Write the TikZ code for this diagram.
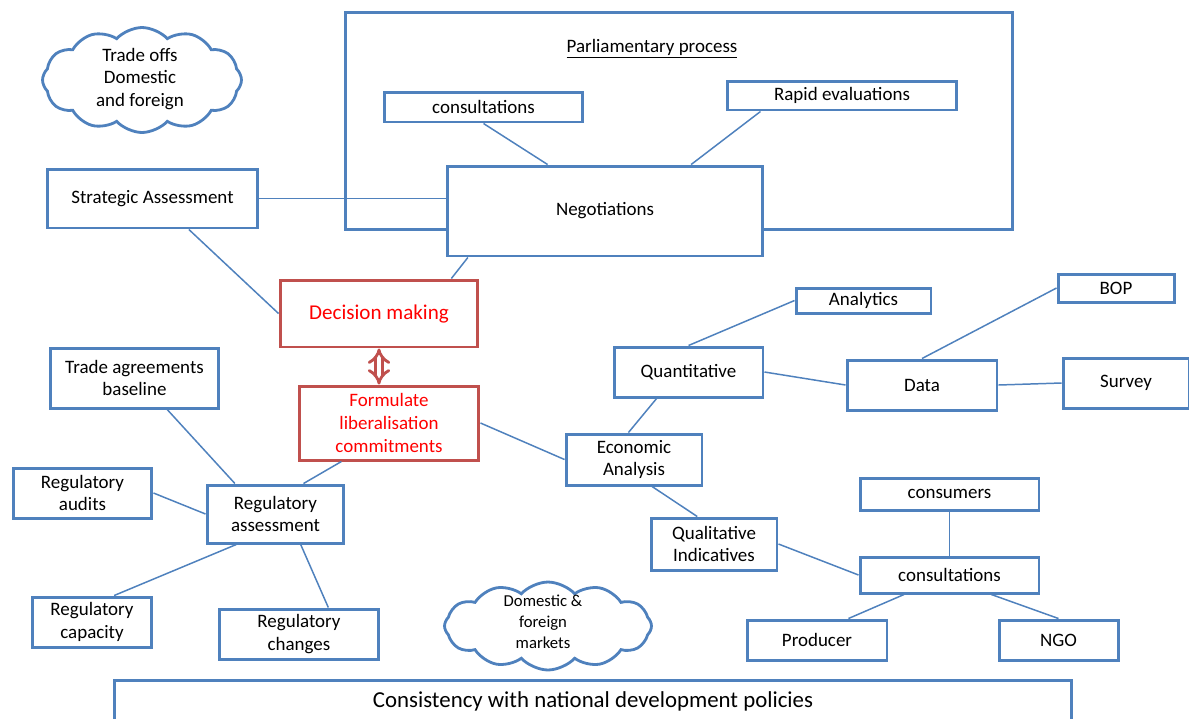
\documentclass[tikz,border=0pt]{standalone}
\usepackage{fontspec}
\setmainfont{Carlito}
\usetikzlibrary{calc,arrows.meta,shapes.symbols}
\definecolor{boxblue}{HTML}{4F81BD}
\definecolor{boxred}{HTML}{C0504D}
\begin{document}
\begin{tikzpicture}[x=0.02cm,y=-0.02cm,
  box/.style={draw=boxblue,line width=1.7pt,fill=white,align=center,inner sep=0pt,
    font=\fontsize{10.8}{13}\selectfont},
  redbox/.style={box,draw=boxred,text=red},
  link/.style={draw=boxblue,line width=0.85pt},
  puff/.style={draw=boxblue,line width=1.6pt,cloud,cloud puffs=12,cloud puff arc=95,
    cloud ignores aspect,inner sep=0pt}]
\useasboundingbox (0,0) rectangle (1189,718);
\node at (679,121) [draw=boxblue,line width=1.7pt,minimum width=13.36cm,minimum height=4.36cm](parl){};
\node at (652,49) [font=\fontsize{10.8}{13}\selectfont](pp){\underline{Parliamentary process}};
\node at (483.5,107) [box,minimum width=3.98cm,minimum height=0.6cm](cons1){consultations};
\node at (842,95.5) [box,minimum width=4.6cm,minimum height=0.58cm](rapid){Rapid evaluations};
\node at (605,211) [box,minimum width=6.32cm,minimum height=1.8cm](nego){Negotiations};
\node at (152.5,198.5) [box,minimum width=4.22cm,minimum height=1.18cm](strat){Strategic Assessment};
\node at (142,80) [puff,minimum width=3.98cm,minimum height=2.1cm](trade){};
\node at (140,79) [align=center,font=\fontsize{10.8}{13}\selectfont](tradetxt){Trade offs\\Domestic\\and foreign};
\node at (379,313.5) [redbox,minimum width=3.96cm,minimum height=1.34cm,font=\fontsize{12}{14}\selectfont](dec){Decision making};
\node at (389,423) [redbox,minimum width=3.6cm,minimum height=1.48cm](form){Formulate\\liberalisation\\commitments};
\node at (134.5,378) [box,minimum width=3.38cm,minimum height=1.2cm](tab){Trade agreements\\baseline};
\node at (82.5,493) [box,minimum width=2.78cm,minimum height=1.0cm](raud){Regulatory\\audits};
\node at (275.5,514) [box,minimum width=2.74cm,minimum height=1.16cm](rass){Regulatory\\assessment};
\node at (92,622) [box,minimum width=2.4cm,minimum height=1.0cm](rcap){Regulatory\\capacity};
\node at (299,634) [box,minimum width=3.2cm,minimum height=1.0cm](rchg){Regulatory\\changes};
\node at (548,626) [puff,minimum width=4.14cm,minimum height=1.76cm](mkts){};
\node at (543,622) [align=center,font=\fontsize{9.5}{12}\selectfont](mktstxt){Domestic \&\\foreign\\markets};
\node at (634,459.5) [box,minimum width=2.72cm,minimum height=1.02cm](econ){Economic\\Analysis};
\node at (688.5,372) [box,minimum width=2.98cm,minimum height=1.0cm](quant){Quantitative};
\node at (863.5,300.5) [box,minimum width=2.7cm,minimum height=0.5cm](anal){Analytics};
\node at (922,385) [box,minimum width=3.0cm,minimum height=1.0cm](data){Data};
\node at (1116,288) [box,minimum width=2.32cm,minimum height=0.56cm](bop){BOP};
\node at (1126,383) [box,minimum width=2.52cm,minimum height=1.0cm](survey){Survey};
\node at (714,544) [box,minimum width=2.52cm,minimum height=1.04cm](qual){Qualitative\\Indicatives};
\node at (949.5,494) [box,minimum width=3.58cm,minimum height=0.64cm](cons){consumers};
\node at (949.5,575) [box,minimum width=3.58cm,minimum height=0.72cm](cons2){consultations};
\node at (817,640) [box,minimum width=2.8cm,minimum height=0.8cm](prod){Producer};
\node at (1058.5,640) [box,minimum width=2.38cm,minimum height=0.8cm](ngo){NGO};
\node at (593,701) [box,minimum width=19.16cm,minimum height=0.84cm,font=\fontsize{13}{15}\selectfont](cons3){Consistency with national development policies};
\draw[link] (strat.east) -- (strat.east -| nego.west);
\draw[link] ($(strat.south west)!.67!(strat.south east)$) -- (dec.west);
\draw[link] ($(nego.south west)!.07!(nego.south east)$) -- ($(dec.north west)!.86!(dec.north east)$);
\draw[link] (cons1.south) -- ($(nego.north west)!.32!(nego.north east)$);
\draw[link] ($(rapid.south west)!.15!(rapid.south east)$) -- ($(nego.north west)!.77!(nego.north east)$);
\draw[link] (form.east) -- (econ.west);
\draw[link] ($(form.south west)!.24!(form.south east)$) -- ($(rass.north west)!.7!(rass.north east)$);
\draw[link] ($(tab.south west)!.69!(tab.south east)$) -- ($(rass.north west)!.21!(rass.north east)$);
\draw[link] (raud.east) -- (rass.west);
\draw[link] ($(rass.south west)!.22!(rass.south east)$) -- ($(rcap.north west)!.68!(rcap.north east)$);
\draw[link] ($(rass.south west)!.68!(rass.south east)$) -- ($(rchg.north west)!.68!(rchg.north east)$);
\draw[link] ($(econ.north west)!.46!(econ.north east)$) -- ($(quant.south west)!.29!(quant.south east)$);
\draw[link] (quant.north) -- (anal.west);
\draw[link] (quant.east) -- (data.west);
\draw[link] (data.north) -- (bop.west);
\draw[link] (data.east) -- (survey.west);
\draw[link] ($(econ.south west)!.63!(econ.south east)$) -- ($(qual.north west)!.37!(qual.north east)$);
\draw[link] (qual.east) -- (cons2.west);
\draw[link] (cons.south) -- (cons2.north);
\draw[link] ($(cons2.south west)!.25!(cons2.south east)$) -- ($(prod.north west)!.72!(prod.north east)$);
\draw[link] ($(cons2.south west)!.73!(cons2.south east)$) -- (ngo.north);
\draw[boxred,line width=1.6pt,double=white,double distance=2.6pt,{Implies}-{Implies}] (dec.south) -- (dec.south |- form.north);
\end{tikzpicture}
\end{document}
